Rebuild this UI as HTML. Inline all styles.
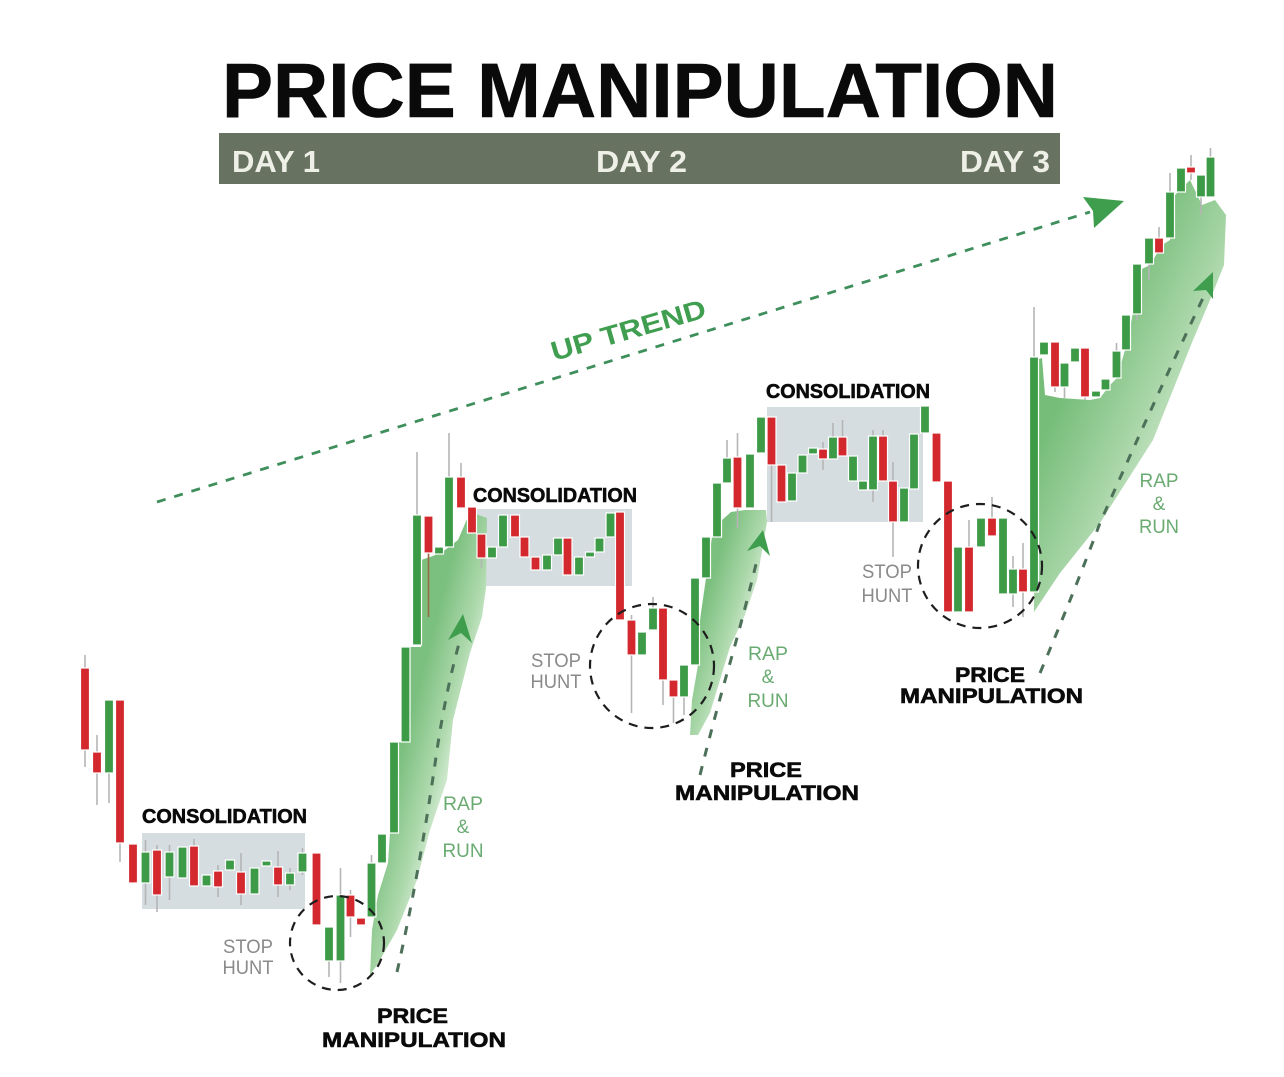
<!DOCTYPE html>
<html><head><meta charset="utf-8"><style>
html,body{margin:0;padding:0;background:#fff;}
svg{display:block;}
.g{fill:#3d9b48;stroke:#fff;stroke-width:1.2;}
.r{fill:#d3282d;stroke:#fff;stroke-width:1.2;}
.w{stroke:#b5b5b5;stroke-width:1.6;}
.lbl{font-family:"Liberation Sans",sans-serif;font-weight:bold;fill:#0a0a0a;stroke:#0a0a0a;stroke-width:0.6;}
.sh{font-family:"Liberation Sans",sans-serif;fill:#8a8a8a;font-size:19px;text-anchor:middle;}
.rr{font-family:"Liberation Sans",sans-serif;fill:#6aab72;font-size:19px;text-anchor:middle;}
</style></head><body>
<svg width="1284" height="1077" viewBox="0 0 1284 1077" xmlns="http://www.w3.org/2000/svg">
<defs>
<linearGradient id="f1" gradientUnits="userSpaceOnUse" x1="400" y1="760" x2="462" y2="776">
<stop offset="0" stop-color="#7cc07f"/><stop offset="0.55" stop-color="#aed9ad"/><stop offset="1" stop-color="#eef7ec"/></linearGradient>
<linearGradient id="f2" gradientUnits="userSpaceOnUse" x1="705" y1="600" x2="762" y2="618">
<stop offset="0" stop-color="#7cc07f"/><stop offset="0.55" stop-color="#aed9ad"/><stop offset="1" stop-color="#eef7ec"/></linearGradient>
<linearGradient id="f3" gradientUnits="userSpaceOnUse" x1="1060" y1="400" x2="1200" y2="467">
<stop offset="0" stop-color="#76bd79"/><stop offset="0.5" stop-color="#a7d5a6"/><stop offset="1" stop-color="#e6f3e4"/></linearGradient>
</defs>

<!-- Title -->
<text x="222" y="117" class="lbl" font-size="77" stroke-width="1.6" textLength="836" lengthAdjust="spacingAndGlyphs">PRICE MANIPULATION</text>
<rect x="219" y="133" width="841" height="51" fill="#677360"/>
<g font-family="Liberation Sans,sans-serif" font-weight="bold" font-size="31" fill="#eef0e8">
<text x="232" y="172" textLength="88" lengthAdjust="spacingAndGlyphs">DAY 1</text>
<text x="596" y="172" textLength="91" lengthAdjust="spacingAndGlyphs">DAY 2</text>
<text x="960" y="172" textLength="90" lengthAdjust="spacingAndGlyphs">DAY 3</text>
</g>

<!-- Up trend -->
<line x1="157" y1="502" x2="1090" y2="212" stroke="#3f8f5c" stroke-width="2.8" stroke-dasharray="9 9"/>
<polygon points="1124,201 1083,197 1093,211 1094,228" fill="#3e9e4e"/>
<text x="554" y="361" transform="rotate(-16 554 361)" font-family="Liberation Sans,sans-serif" font-weight="bold" font-size="27" fill="#3f9e4f" textLength="160" lengthAdjust="spacingAndGlyphs">UP TREND</text>

<!-- Consolidation boxes -->
<rect x="142" y="833" width="163" height="76" fill="#d5dde0"/>
<rect x="473" y="509" width="159" height="77" fill="#d5dde0"/>
<rect x="767" y="407" width="156" height="115" fill="#d5dde0"/>

<!-- Green fills -->
<path d="M370,975 L372,930 L378,895 L388,863 L390,833 L398,833 L398,742 L410,742 L410,647 L421,647 L421,560 L433,556 L445,550 L458,540 L470,512 L487,518 L486,588 L482,617 L470,653 L453,720 L447,780 L430,830 L417,880 L397,930 L377,965 Z" fill="url(#f1)"/>
<path d="M690,735 L692,700 L698,665 L700,620 L706,578 L712,537 L722,520 L731,512 L745,510 L766,510 L767,522 L757,580 L745,615 L730,647 L720,680 L710,713 L698,735 Z" fill="url(#f2)"/>
<path d="M1034,612 L1036,360 L1042,358 L1045,395 L1060,398 L1090,400 L1100,398 L1110,385 L1117,378 L1125,350 L1132,318 L1140,270 L1150,265 L1162,245 L1170,240 L1175,195 L1190,180 L1202,205 L1215,200 L1226,215 L1224,265 L1210,300 L1193,340 L1153,440 L1100,523 L1060,573 Z" fill="url(#f3)"/>

<!-- Wicks -->
<g class="w">
<line x1="85" y1="655" x2="85" y2="767"/><line x1="97" y1="735" x2="97" y2="805"/><line x1="109" y1="700" x2="109" y2="803"/><line x1="120" y1="700" x2="120" y2="862"/>
<line x1="145.5" y1="840" x2="145.5" y2="905"/><line x1="157" y1="845" x2="157" y2="912"/><line x1="169.5" y1="845" x2="169.5" y2="900"/><line x1="194" y1="839" x2="194" y2="886"/>
<line x1="218" y1="865" x2="218" y2="897"/><line x1="241" y1="853" x2="241" y2="905"/><line x1="278" y1="851" x2="278" y2="897"/><line x1="290" y1="868" x2="290" y2="890"/><line x1="302.5" y1="848" x2="302.5" y2="875"/>
<line x1="329" y1="927" x2="329" y2="977"/><line x1="340.5" y1="868" x2="340.5" y2="983"/><line x1="350.5" y1="890" x2="350.5" y2="937"/><line x1="371.5" y1="855" x2="371.5" y2="917"/>
<line x1="417" y1="452" x2="417" y2="515"/><line x1="428.5" y1="553" x2="428.5" y2="617" stroke="#9a6a40"/><line x1="449" y1="433" x2="449" y2="547"/><line x1="461" y1="463" x2="461" y2="508"/><line x1="481.5" y1="534" x2="481.5" y2="568"/>
<line x1="631.5" y1="615" x2="631.5" y2="713"/><line x1="653" y1="597" x2="653" y2="630"/><line x1="663" y1="608" x2="663" y2="705"/><line x1="673.5" y1="680" x2="673.5" y2="723"/><line x1="684" y1="665" x2="684" y2="715"/>
<line x1="727" y1="440" x2="727" y2="483"/><line x1="737.5" y1="433" x2="737.5" y2="528"/><line x1="771.5" y1="417" x2="771.5" y2="522"/>
<line x1="823" y1="442" x2="823" y2="470"/><line x1="833" y1="423" x2="833" y2="459"/><line x1="842.5" y1="420" x2="842.5" y2="456"/><line x1="873" y1="430" x2="873" y2="502"/><line x1="883" y1="430" x2="883" y2="481"/><line x1="893" y1="462" x2="893" y2="557"/>
<line x1="969" y1="520" x2="969" y2="612"/><line x1="992" y1="497" x2="992" y2="536"/><line x1="1013" y1="556" x2="1013" y2="607"/><line x1="1023" y1="543" x2="1023" y2="617"/>
<line x1="1034" y1="307" x2="1034" y2="592"/><line x1="1055" y1="342" x2="1055" y2="392"/><line x1="1064.5" y1="363" x2="1064.5" y2="398"/><line x1="1085" y1="348" x2="1085" y2="400"/>
<line x1="1116.5" y1="343" x2="1116.5" y2="378"/><line x1="1137" y1="264" x2="1137" y2="320"/><line x1="1149" y1="238" x2="1149" y2="280"/><line x1="1159" y1="227" x2="1159" y2="253"/>
<line x1="1170" y1="173" x2="1170" y2="238"/><line x1="1191" y1="155" x2="1191" y2="180"/><line x1="1201" y1="175" x2="1201" y2="215"/><line x1="1210.5" y1="148" x2="1210.5" y2="197"/>
</g>

<!-- Candles -->
<g>
<rect class="r" x="80.5" y="668" width="9" height="82"/>
<rect class="r" x="92.5" y="752" width="9" height="21"/>
<rect class="g" x="104.5" y="700" width="9" height="73"/>
<rect class="r" x="115.5" y="700" width="9" height="143"/>
<rect class="r" x="128.5" y="844" width="9" height="39"/>
<rect class="g" x="141" y="852" width="9" height="31"/>
<rect class="r" x="152.5" y="850" width="9" height="45"/>
<rect class="g" x="165" y="852" width="9" height="25"/>
<rect class="g" x="178" y="847" width="9" height="31"/>
<rect class="r" x="189.5" y="846" width="9" height="40"/>
<rect class="g" x="202" y="875" width="9" height="11"/>
<rect class="r" x="213.5" y="871" width="9" height="16"/>
<rect class="g" x="225.5" y="860" width="9" height="10"/>
<rect class="r" x="236.5" y="872" width="9" height="22"/>
<rect class="g" x="250" y="868" width="9" height="26"/>
<rect class="g" x="262" y="861" width="9" height="5"/>
<rect class="r" x="273.5" y="867" width="9" height="18"/>
<rect class="g" x="285.5" y="873" width="9" height="12"/>
<rect class="g" x="298" y="853" width="9" height="19"/>
<rect class="r" x="312" y="853" width="9" height="72"/>
<rect class="g" x="324.5" y="927" width="9" height="34"/>
<rect class="g" x="336" y="895" width="9" height="66"/>
<rect class="r" x="346" y="895" width="9" height="22"/>
<rect class="r" x="356.5" y="918" width="9" height="7"/>
<rect class="g" x="367" y="863" width="9" height="54"/>
<rect class="g" x="377.5" y="834" width="9" height="29"/>
<rect class="g" x="389.5" y="742" width="9" height="91"/>
<rect class="g" x="401" y="647" width="9" height="95"/>
<rect class="g" x="412.5" y="515" width="9" height="130"/>
<rect class="r" x="424" y="516" width="9" height="37"/>
<rect class="g" x="434.5" y="547" width="9" height="7"/>
<rect class="g" x="444.5" y="477" width="9" height="70"/>
<rect class="r" x="456.5" y="477" width="9" height="31"/>
<rect class="r" x="467.5" y="507" width="9" height="26"/>
<rect class="r" x="477" y="534" width="9" height="24"/>
<rect class="g" x="487.5" y="547" width="9" height="11"/>
<rect class="g" x="498.5" y="515" width="9" height="32"/>
<rect class="r" x="510.5" y="515" width="9" height="22"/>
<rect class="r" x="520" y="537" width="9" height="20"/>
<rect class="r" x="531" y="557" width="9" height="13"/>
<rect class="g" x="542.5" y="555" width="9" height="15"/>
<rect class="g" x="553.5" y="538" width="9" height="17"/>
<rect class="r" x="563" y="538" width="9" height="37"/>
<rect class="g" x="574.5" y="557" width="9" height="18"/>
<rect class="g" x="585.5" y="552" width="9" height="5"/>
<rect class="g" x="595" y="538" width="9" height="14"/>
<rect class="g" x="606" y="513" width="9" height="24"/>
<rect class="r" x="615.5" y="512" width="9" height="108"/>
<rect class="r" x="627" y="620" width="9" height="35"/>
<rect class="g" x="637.5" y="632" width="9" height="23"/>
<rect class="g" x="648.5" y="608" width="9" height="22"/>
<rect class="r" x="658.5" y="608" width="9" height="72"/>
<rect class="r" x="669" y="680" width="9" height="17"/>
<rect class="g" x="679.5" y="665" width="9" height="32"/>
<rect class="g" x="690.5" y="578" width="9" height="87"/>
<rect class="g" x="701.5" y="537" width="9" height="41"/>
<rect class="g" x="712.5" y="483" width="9" height="54"/>
<rect class="g" x="722.5" y="458" width="9" height="25"/>
<rect class="r" x="733" y="457" width="9" height="51"/>
<rect class="g" x="745.5" y="454" width="9" height="54"/>
<rect class="g" x="756.5" y="417" width="9" height="36"/>
<rect class="r" x="767" y="417" width="9" height="48"/>
<rect class="r" x="777" y="465" width="9" height="37"/>
<rect class="g" x="787.5" y="473" width="9" height="28"/>
<rect class="g" x="798" y="455" width="9" height="18"/>
<rect class="g" x="808.5" y="448" width="9" height="6"/>
<rect class="r" x="818.5" y="449" width="9" height="10"/>
<rect class="g" x="828.5" y="437" width="9" height="22"/>
<rect class="r" x="838" y="437" width="9" height="19"/>
<rect class="g" x="848.5" y="456" width="9" height="25"/>
<rect class="g" x="858.5" y="481" width="9" height="9"/>
<rect class="g" x="868.5" y="436" width="9" height="54"/>
<rect class="r" x="878.5" y="436" width="9" height="45"/>
<rect class="r" x="888.5" y="481" width="9" height="41"/>
<rect class="g" x="899.5" y="488" width="9" height="34"/>
<rect class="g" x="909.5" y="434" width="9" height="55"/>
<rect class="g" x="920.5" y="406" width="9" height="27"/>
<rect class="r" x="932" y="433" width="9" height="49"/>
<rect class="r" x="943.5" y="481" width="9" height="131"/>
<rect class="g" x="953.5" y="547" width="9" height="65"/>
<rect class="r" x="964.5" y="547" width="9" height="65"/>
<rect class="g" x="976.5" y="518" width="9" height="29"/>
<rect class="r" x="987.5" y="518" width="9" height="18"/>
<rect class="g" x="998.5" y="518" width="9" height="76"/>
<rect class="g" x="1008.5" y="569" width="9" height="25"/>
<rect class="r" x="1018.5" y="569" width="9" height="23"/>
<rect class="g" x="1029.5" y="357" width="9" height="235"/>
<rect class="g" x="1039.5" y="342" width="9" height="13"/>
<rect class="r" x="1050.5" y="342" width="9" height="45"/>
<rect class="g" x="1060" y="363" width="9" height="24"/>
<rect class="g" x="1070.5" y="348" width="9" height="14"/>
<rect class="r" x="1080.5" y="348" width="9" height="49"/>
<rect class="g" x="1091.5" y="391" width="9" height="6"/>
<rect class="g" x="1101" y="379" width="9" height="11"/>
<rect class="g" x="1112" y="351" width="9" height="27"/>
<rect class="g" x="1121.5" y="315" width="9" height="35"/>
<rect class="g" x="1132.5" y="264" width="9" height="50"/>
<rect class="g" x="1144.5" y="238" width="9" height="26"/>
<rect class="r" x="1154.5" y="238" width="9" height="15"/>
<rect class="g" x="1165.5" y="192" width="9" height="46"/>
<rect class="g" x="1176.5" y="168" width="9" height="24"/>
<rect class="r" x="1186.5" y="167" width="9" height="6"/>
<rect class="g" x="1196.5" y="175" width="9" height="22"/>
<rect class="g" x="1206" y="157" width="9" height="40"/>
</g>

<!-- Stop hunt circles -->
<g fill="none" stroke="#1e1e1e" stroke-width="2.2" stroke-dasharray="9 7">
<circle cx="337" cy="943" r="47"/>
<circle cx="652" cy="666" r="62"/>
<circle cx="980" cy="566" r="62"/>
</g>

<!-- Rap & run dashed arrows -->
<g fill="none" stroke="#4d7059" stroke-width="3" stroke-dasharray="9 10">
<path d="M397,972 Q420,870 437,750 Q446,690 460,640"/>
<path d="M700,775 Q715,715 730,663 Q745,610 757,560"/>
<path d="M1040,673 Q1075,590 1100,523 Q1150,410 1203,298"/>
</g>
<polygon points="463,614 448,640 461,633 472,643" fill="#3e9e4e"/>
<polygon points="763,530 747,551 760,546 770,556" fill="#3e9e4e"/>
<polygon points="1213,272 1193,291 1206,290 1213,299" fill="#3e9e4e"/>

<!-- Labels -->
<text x="142" y="823" class="lbl" font-size="20" textLength="165" lengthAdjust="spacingAndGlyphs">CONSOLIDATION</text>
<text x="473" y="502" class="lbl" font-size="20" textLength="164" lengthAdjust="spacingAndGlyphs">CONSOLIDATION</text>
<text x="766" y="398" class="lbl" font-size="20" textLength="164" lengthAdjust="spacingAndGlyphs">CONSOLIDATION</text>

<text x="248" y="953" class="sh" textLength="50" lengthAdjust="spacingAndGlyphs">STOP</text>
<text x="248" y="974" class="sh" textLength="51" lengthAdjust="spacingAndGlyphs">HUNT</text>
<text x="556" y="667" class="sh" textLength="50" lengthAdjust="spacingAndGlyphs">STOP</text>
<text x="556" y="688" class="sh" textLength="51" lengthAdjust="spacingAndGlyphs">HUNT</text>
<text x="887" y="578" class="sh" textLength="50" lengthAdjust="spacingAndGlyphs">STOP</text>
<text x="887" y="602" class="sh" textLength="51" lengthAdjust="spacingAndGlyphs">HUNT</text>

<text x="463" y="810" class="rr" textLength="40" lengthAdjust="spacingAndGlyphs">RAP</text>
<text x="463" y="833" class="rr">&amp;</text>
<text x="463" y="857" class="rr" textLength="41" lengthAdjust="spacingAndGlyphs">RUN</text>
<text x="768" y="660" class="rr" textLength="40" lengthAdjust="spacingAndGlyphs">RAP</text>
<text x="768" y="683" class="rr">&amp;</text>
<text x="768" y="707" class="rr" textLength="41" lengthAdjust="spacingAndGlyphs">RUN</text>
<text x="1159" y="487" class="rr" textLength="39" lengthAdjust="spacingAndGlyphs">RAP</text>
<text x="1159" y="510" class="rr">&amp;</text>
<text x="1159" y="533" class="rr" textLength="40" lengthAdjust="spacingAndGlyphs">RUN</text>

<text x="377" y="1023" class="lbl" font-size="21" textLength="71" lengthAdjust="spacingAndGlyphs">PRICE</text>
<text x="322" y="1047" class="lbl" font-size="21" textLength="184" lengthAdjust="spacingAndGlyphs">MANIPULATION</text>
<text x="730" y="777" class="lbl" font-size="21" textLength="72" lengthAdjust="spacingAndGlyphs">PRICE</text>
<text x="675" y="800" class="lbl" font-size="21" textLength="184" lengthAdjust="spacingAndGlyphs">MANIPULATION</text>
<text x="955" y="682" class="lbl" font-size="21" textLength="70" lengthAdjust="spacingAndGlyphs">PRICE</text>
<text x="900" y="703" class="lbl" font-size="21" textLength="183" lengthAdjust="spacingAndGlyphs">MANIPULATION</text>
</svg>
</body></html>
